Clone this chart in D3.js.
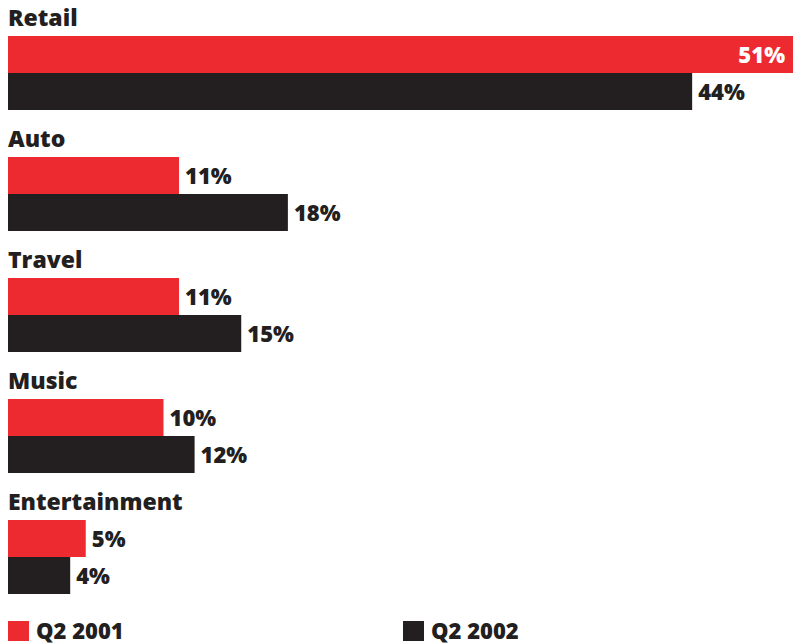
<!DOCTYPE html>
<html>
<head>
<meta charset="utf-8">
<script src="https://cdn.jsdelivr.net/npm/d3@7"></script>
<style>
  html, body { margin: 0; padding: 0; background: #fff; }
  svg { display: block; }
  text { font-family: "Open Sans", sans-serif; font-weight: 800; fill: #231f20; }
</style>
</head>
<body>
<script>
// Share by category, two quarters
const categories = ["Retail", "Auto", "Travel", "Music", "Entertainment"];
const q2_2001 = [51, 11, 11, 10, 5];
const q2_2002 = [44, 18, 15, 12, 4];
const seriesNames = ["Q2 2001", "Q2 2002"];
const colors = ["#ed2a2f", "#231f20"];

const width = 793, height = 644;
const svg = d3.select("body").append("svg")
  .attr("width", width).attr("height", height);

const x = d3.scaleLinear().domain([0, 51]).range([8, 801]);
const groupY = d3.scaleBand().domain(categories).range([36, 641]).paddingInner(0).paddingOuter(0);
const barH = 37;
const series = [q2_2001, q2_2002];

const g = svg.selectAll("g.cat").data(categories).join("g")
  .attr("class", "cat")
  .attr("transform", d => `translate(0,${groupY(d)})`);

g.append("text")
  .attr("x", 8).attr("y", -10)
  .attr("font-size", 23)
  .text(d => d);

series.forEach((vals, si) => {
  g.append("rect")
    .attr("x", x(0))
    .attr("y", si * barH)
    .attr("width", (d, i) => x(vals[i]) - x(0))
    .attr("height", barH)
    .attr("fill", colors[si]);

  g.append("text")
    .attr("font-size", 22)
    .attr("y", si * barH + barH / 2 + 8)
    .each(function (d, i) {
      const v = vals[i];
      const end = x(v);
      const sel = d3.select(this).text(v + "%");
      if (end > width - 60) {
        sel.attr("x", width - 8).attr("text-anchor", "end").style("fill", "#fff");
      } else {
        sel.attr("x", end + 6);
      }
    });
});

// Legend
const legend = svg.selectAll("g.legend").data(seriesNames).join("g")
  .attr("class", "legend")
  .attr("transform", (d, i) => `translate(${i === 0 ? 8 : 403},621)`);
legend.append("rect").attr("width", 21).attr("height", 20).attr("fill", (d, i) => colors[i]);
legend.append("text").attr("x", 28).attr("y", 18).attr("font-size", 22).text(d => d);
</script>
</body>
</html>
